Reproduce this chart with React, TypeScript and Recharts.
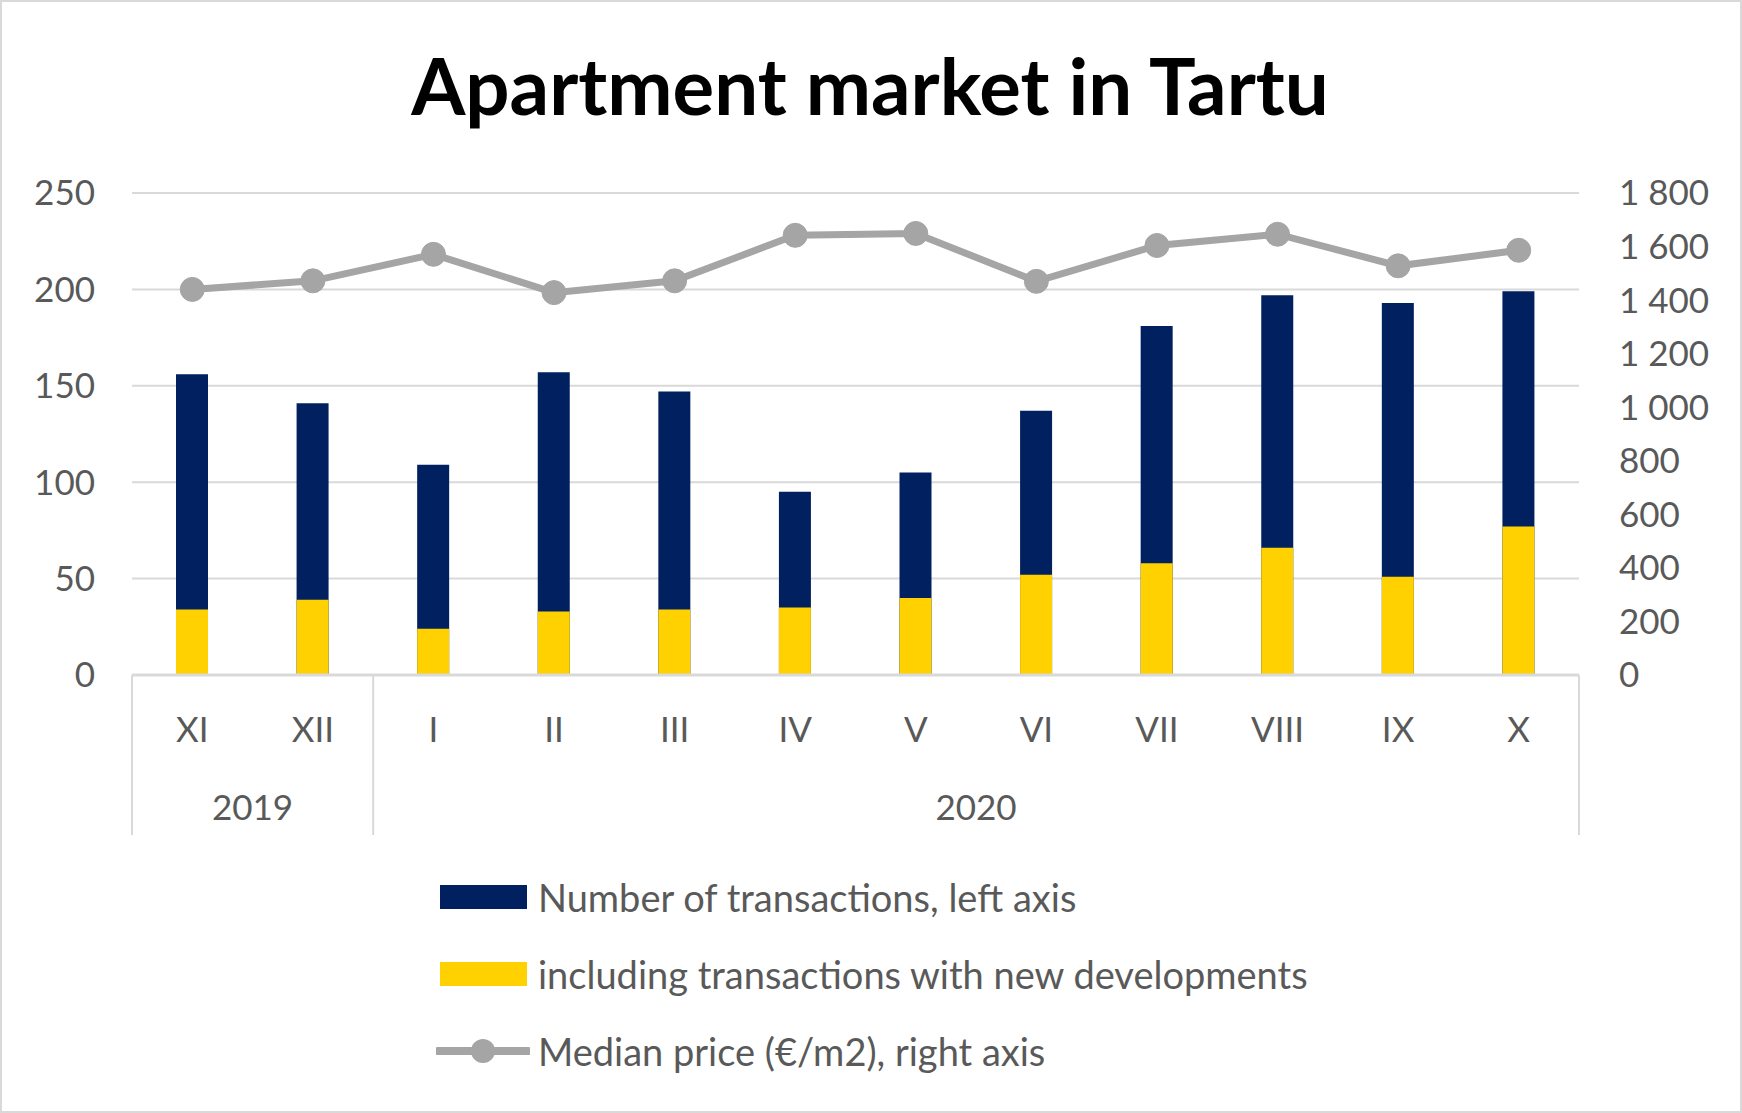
import React from 'react';
import {
  ComposedChart,
  Bar,
  Line,
  XAxis,
  YAxis,
  CartesianGrid,
  Legend,
} from 'recharts';

const months = ['XI', 'XII', 'I', 'II', 'III', 'IV', 'V', 'VI', 'VII', 'VIII', 'IX', 'X'];
const years = ['2019', '2019', '2020', '2020', '2020', '2020', '2020', '2020', '2020', '2020', '2020', '2020'];
const transactions = [156, 141, 109, 157, 147, 95, 105, 137, 181, 197, 193, 199];
const newDevelopments = [34, 39, 24, 33, 34, 35, 40, 52, 58, 66, 51, 77];
const medianPrice = [1440, 1472, 1571, 1428, 1472, 1642, 1649, 1470, 1604, 1646, 1528, 1586];

const leftTicks = [0, 50, 100, 150, 200, 250];
const rightTicks = [0, 200, 400, 600, 800, 1000, 1200, 1400, 1600, 1800];

const W = 1742;
const H = 1113;
const FONT = 'Lato, "Open Sans", sans-serif';
const TEXT = '#595959';
const NAVY = '#002060';
const YELLOW = '#FFD100';
const GREY = '#A5A5A5';
const GRID = '#D9D9D9';

const LEFT_W = 132;
const RIGHT_W = 163;
const BAND = (W - LEFT_W - RIGHT_W) / months.length;

const data = months.map((m, i) => ({
  month: m,
  year: years[i],
  total: transactions[i],
  newDev: newDevelopments[i],
  price: medianPrice[i],
}));

const fmtThousands = (v: number) => String(v).replace(/\B(?=(\d{3})+(?!\d))/g, ' ');

// month label + year grouping row with separators
function MonthTick(props: any) {
  const { x, y, payload } = props;
  const i: number = payload.index;
  const yr = years[i];
  const isFirst = i === 0 || years[i - 1] !== yr;
  const isLast = i === years.length - 1 || years[i + 1] !== yr;
  let groupLen = 0;
  if (isFirst) {
    for (let k = i; k < years.length && years[k] === yr; k++) groupLen++;
  }
  return (
    <g>
      <text x={x} y={y + 55} dy="0.355em" textAnchor="middle" fill={TEXT} fontSize={35} fontFamily={FONT}>
        {payload.value}
      </text>
      {i === 0 && <line x1={x - BAND / 2} x2={x - BAND / 2} y1={y} y2={y + 160} stroke={GRID} strokeWidth={2} />}
      {isLast && <line x1={x + BAND / 2} x2={x + BAND / 2} y1={y} y2={y + 160} stroke={GRID} strokeWidth={2} />}
      {isFirst && (
        <text
          x={x - BAND / 2 + (groupLen * BAND) / 2}
          y={y + 133}
          dy="0.355em"
          textAnchor="middle"
          fill={TEXT}
          fontSize={35}
          fontFamily={FONT}
        >
          {yr}
        </text>
      )}
    </g>
  );
}

function LegendContent() {
  const rows = [
    { label: 'Number of transactions, left axis', kind: 'bar', color: NAVY },
    { label: 'including transactions with new developments', kind: 'bar', color: YELLOW },
    { label: 'Median price (€/m2), right axis', kind: 'line', color: GREY },
  ];
  return (
    <div style={{ fontFamily: FONT, fontSize: 38, color: TEXT, whiteSpace: 'nowrap' }}>
      {rows.map((r) => (
        <div key={r.label} style={{ display: 'flex', alignItems: 'center', height: 77 }}>
          <svg width={94} height={30} style={{ marginRight: 8 }}>
            {r.kind === 'bar' ? (
              <rect x={4} y={3} width={87} height={24} fill={r.color} />
            ) : (
              <g>
                <line x1={2} x2={92} y1={15} y2={15} stroke={r.color} strokeWidth={8} strokeLinecap="round" />
                <circle cx={47} cy={15} r={12} fill={r.color} />
              </g>
            )}
          </svg>
          <span>{r.label}</span>
        </div>
      ))}
    </div>
  );
}

export default function App() {
  return (
    <div
      style={{
        position: 'absolute',
        left: 0,
        top: 0,
        width: W,
        height: H,
        background: '#fff',
        outline: `2px solid ${GRID}`,
        outlineOffset: -2,
      }}
    >
      <div
        style={{
          position: 'absolute',
          left: 0,
          width: W - 2,
          top: 46,
          textAlign: 'center',
          fontFamily: FONT,
          fontWeight: 700,
          fontSize: 78,
          lineHeight: 1,
          color: '#000',
        }}
      >
        Apartment market in Tartu
      </div>
      <ComposedChart
        width={W}
        height={H}
        data={data}
        margin={{ top: 193, right: 0, bottom: 268, left: 0 }}
        barGap={-32}
        barSize={32}
      >
        <CartesianGrid yAxisId="left" vertical={false} stroke={GRID} strokeWidth={2} />
        <XAxis
          dataKey="month"
          height={170}
          interval={0}
          axisLine={{ stroke: GRID, strokeWidth: 3 }}
          tickLine={false}
          tickSize={0}
          tickMargin={0}
          tick={<MonthTick />}
        />
        <YAxis
          yAxisId="left"
          width={LEFT_W}
          domain={[0, 250]}
          ticks={leftTicks}
          axisLine={false}
          tickLine={false}
          tickSize={0}
          tickMargin={37}
          tick={{ fill: TEXT, fontSize: 35, fontFamily: FONT }}
        />
        <YAxis
          yAxisId="right"
          orientation="right"
          width={RIGHT_W}
          domain={[0, 1800]}
          ticks={rightTicks}
          axisLine={false}
          tickLine={false}
          tickSize={0}
          tickMargin={40}
          tickFormatter={fmtThousands}
          tick={{ fill: TEXT, fontSize: 35, fontFamily: FONT, textAnchor: 'start' }}
        />
        <Bar yAxisId="left" dataKey="total" fill={NAVY} isAnimationActive={false} />
        <Bar yAxisId="left" dataKey="newDev" fill={YELLOW} isAnimationActive={false} />
        <Line
          yAxisId="right"
          dataKey="price"
          stroke={GREY}
          strokeWidth={7}
          dot={{ r: 12, fill: GREY, stroke: GREY, strokeWidth: 1 }}
          isAnimationActive={false}
        />
        <Legend
          layout="vertical"
          align="center"
          verticalAlign="middle"
          wrapperStyle={{ top: 858, left: 436, width: 'auto', right: 'auto', bottom: 'auto' }}
          content={<LegendContent />}
        />
      </ComposedChart>
    </div>
  );
}
